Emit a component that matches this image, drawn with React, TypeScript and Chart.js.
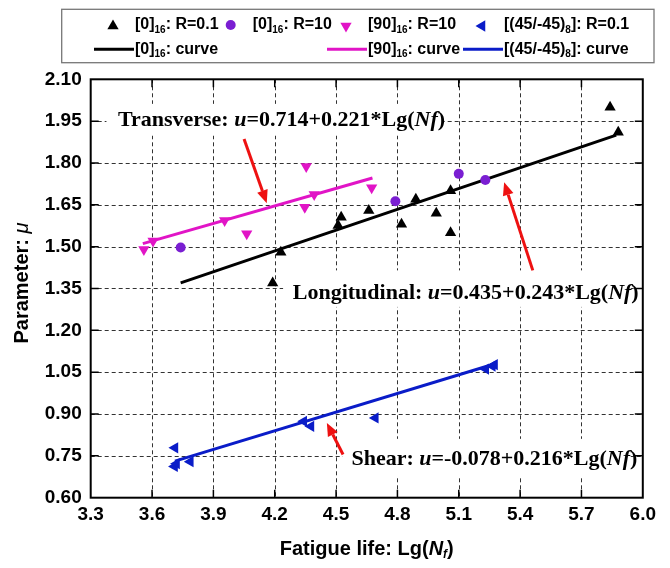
import React, { useEffect, useRef } from 'react';
import { Chart, registerables } from 'chart.js';

Chart.register(...registerables);

// ---------- axis ticks ----------
const xTicks = [3.3, 3.6, 3.9, 4.2, 4.5, 4.8, 5.1, 5.4, 5.7, 6.0];
const xTickLabels = ['3.3', '3.6', '3.9', '4.2', '4.5', '4.8', '5.1', '5.4', '5.7', '6.0'];
const yTicks = [0.6, 0.75, 0.9, 1.05, 1.2, 1.35, 1.5, 1.65, 1.8, 1.95, 2.1];
const yTickLabels = ['0.60', '0.75', '0.90', '1.05', '1.20', '1.35', '1.50', '1.65', '1.80', '1.95', '2.10'];

// ---------- series: [0]16 R=0.1 ----------
const long01Lg = [5.84, 5.88, 5.06, 4.89, 4.99, 5.06, 4.82, 4.66, 4.525, 4.51, 4.23, 4.19];
const long01Mu = [2.0, 1.91, 1.70, 1.67, 1.62, 1.55, 1.58, 1.63, 1.605, 1.576, 1.48, 1.37];
// ---------- [0]16 R=10 ----------
const long10Lg = [3.74, 4.79, 5.10, 5.23];
const long10Mu = [1.497, 1.663, 1.761, 1.739];
// ---------- [90]16 R=10 ----------
const trans10Lg = [3.56, 3.605, 3.955, 4.063, 4.354, 4.347, 4.393, 4.674];
const trans10Mu = [1.49, 1.52, 1.594, 1.546, 1.787, 1.641, 1.687, 1.711];
// ---------- [(45/-45)8] R=0.1 ----------
const shear01Lg = [3.712, 3.71, 3.72, 3.787, 4.342, 4.377, 4.692, 5.232, 5.264, 5.275];
const shear01Mu = [0.779, 0.712, 0.722, 0.729, 0.874, 0.856, 0.886, 1.061, 1.072, 1.077];
// ---------- fitted curves (end points) ----------
const longCurveLg = [3.74, 5.87];
const longCurveMu = [1.37, 1.90];
const transCurveLg = [3.555, 4.678];
const transCurveMu = [1.511, 1.746];
const shearCurveLg = [3.712, 5.286];
const shearCurveMu = [0.731, 1.082];

// ---------- labels ----------
const seriesLabels = [
  '[0]_16: R=0.1',
  '[0]_16: R=10',
  '[90]_16: R=10',
  '[(45/-45)_8]: R=0.1',
  '[0]_16: curve',
  '[90]_16: curve',
  '[(45/-45)_8]: curve',
];

const BLACK = '#000000';
const PURPLE = '#7A1ED2';
const MAGENTA = '#E114C6';
const BLUE = '#0A1CC8';
const RED = '#EE1111';

const SANS = '"Liberation Sans", Arial, sans-serif';
const SERIF = '"Liberation Serif", "Times New Roman", serif';

const zip = (xs: number[], ys: number[]) => xs.map((x, i) => ({ x, y: ys[i] }));

// ---------- annotations (data coordinates) ----------
type Seg = { t: string; i?: boolean };
const annotations: { box: number[]; tx: number; ty: number; parts: Seg[]; arrow: number[] }[] = [
  {
    box: [3.377, 2.012, 5.023, 1.898],
    tx: 3.433, ty: 1.955,
    parts: [{ t: 'Transverse: ' }, { t: 'u', i: true }, { t: '=0.714+0.221*Lg(' }, { t: 'Nf', i: true }, { t: ')' }],
    arrow: [4.05, 1.886, 4.161, 1.656],
  },
  {
    box: [4.241, 1.415, 5.941, 1.284],
    tx: 4.288, ty: 1.338,
    parts: [{ t: 'Longitudinal: ' }, { t: 'u', i: true }, { t: '=0.435+0.243*Lg(' }, { t: 'Nf', i: true }, { t: ')' }],
    arrow: [5.462, 1.415, 5.322, 1.731],
  },
  {
    box: [4.532, 0.811, 5.941, 0.671],
    tx: 4.575, ty: 0.743,
    parts: [{ t: 'Shear: ' }, { t: 'u', i: true }, { t: '=-0.078+0.216*Lg(' }, { t: 'Nf', i: true }, { t: ')' }],
    arrow: [4.534, 0.755, 4.455, 0.868],
  },
];

// ---------- helpers ----------
function drawMarker(ctx: CanvasRenderingContext2D, style: string, rot: number, x: number, y: number, r: number, color: string) {
  ctx.save();
  ctx.fillStyle = color;
  ctx.beginPath();
  if (style === 'circle') {
    ctx.arc(x, y, r, 0, Math.PI * 2);
  } else {
    let rad = (rot * Math.PI) / 180;
    for (let k = 0; k < 3; k++) {
      const px = x + Math.sin(rad) * r;
      const py = y - Math.cos(rad) * r;
      if (k === 0) ctx.moveTo(px, py); else ctx.lineTo(px, py);
      rad += (2 * Math.PI) / 3;
    }
    ctx.closePath();
  }
  ctx.fill();
  ctx.restore();
}

function parseSub(label: string) {
  // "_digits" => subscript
  const out: { t: string; sub: boolean }[] = [];
  const re = /_(\d+)/g;
  let last = 0;
  let m;
  while ((m = re.exec(label))) {
    if (m.index > last) out.push({ t: label.slice(last, m.index), sub: false });
    out.push({ t: m[1], sub: true });
    last = m.index + m[0].length;
  }
  if (last < label.length) out.push({ t: label.slice(last), sub: false });
  return out;
}

function drawLegendText(ctx: CanvasRenderingContext2D, label: string, x: number, y: number) {
  let cx = x;
  ctx.textBaseline = 'middle';
  ctx.textAlign = 'left';
  ctx.fillStyle = '#000';
  for (const seg of parseSub(label)) {
    ctx.font = seg.sub ? `bold 10px ${SANS}` : `bold 16px ${SANS}`;
    ctx.fillText(seg.t, cx, seg.sub ? y + 5 : y);
    cx += ctx.measureText(seg.t).width;
  }
}

// legend layout: column text x (canvas px) and rows
const legendCols = [127, 244.7, 360, 496];
const legendRows = [17, 41.3];
const legendSlots = [
  [0, 0], [1, 0], [2, 0], [3, 0],
  [0, 1], [2, 1], [3, 1],
];

const plotPlugin = {
  id: 'plotDecor',
  beforeDatasetsDraw(chart: any) {
    const { ctx, chartArea: a, scales } = chart;
    const sx = scales.x, sy = scales.y;
    ctx.save();
    ctx.strokeStyle = '#333';
    ctx.lineWidth = 1;
    ctx.setLineDash([4, 3]);
    xTicks.slice(1, -1).forEach((v) => {
      const p = Math.round(sx.getPixelForValue(v)) + 0.5;
      ctx.beginPath(); ctx.moveTo(p, a.top); ctx.lineTo(p, a.bottom); ctx.stroke();
    });
    yTicks.slice(1, -1).forEach((v) => {
      const p = Math.round(sy.getPixelForValue(v)) + 0.5;
      ctx.beginPath(); ctx.moveTo(a.left, p); ctx.lineTo(a.right, p); ctx.stroke();
    });
    ctx.restore();
  },
  afterDatasetsDraw(chart: any) {
    const { ctx, chartArea: a, scales } = chart;
    const sx = scales.x, sy = scales.y;
    // frame + inward ticks
    ctx.save();
    ctx.strokeStyle = '#000';
    ctx.lineWidth = 2;
    ctx.strokeRect(a.left, a.top, a.right - a.left, a.bottom - a.top);
    ctx.lineWidth = 1.5;
    const tl = 8;
    xTicks.slice(1, -1).forEach((v) => {
      const p = sx.getPixelForValue(v);
      ctx.beginPath();
      ctx.moveTo(p, a.bottom); ctx.lineTo(p, a.bottom - tl);
      ctx.moveTo(p, a.top); ctx.lineTo(p, a.top + tl);
      ctx.stroke();
    });
    yTicks.slice(1, -1).forEach((v) => {
      const p = sy.getPixelForValue(v);
      ctx.beginPath();
      ctx.moveTo(a.left, p); ctx.lineTo(a.left + tl, p);
      ctx.moveTo(a.right, p); ctx.lineTo(a.right - tl, p);
      ctx.stroke();
    });
    ctx.restore();

    // annotations
    for (const an of annotations) {
      const [x1, y1, x2, y2] = an.box;
      const L = sx.getPixelForValue(x1), T = sy.getPixelForValue(y1);
      const R = sx.getPixelForValue(x2), B = sy.getPixelForValue(y2);
      ctx.save();
      ctx.fillStyle = '#fff';
      ctx.fillRect(L, T, R - L, B - T);
      let cx = sx.getPixelForValue(an.tx);
      const cy = sy.getPixelForValue(an.ty);
      ctx.fillStyle = '#000';
      ctx.textBaseline = 'middle';
      ctx.textAlign = 'left';
      for (const p of an.parts) {
        ctx.font = `${p.i ? 'italic ' : ''}bold 22px ${SERIF}`;
        ctx.fillText(p.t, cx, cy + 1);
        cx += ctx.measureText(p.t).width;
      }
      // arrow
      const [ax1, ay1, ax2, ay2] = an.arrow;
      const tx = sx.getPixelForValue(ax1), ty = sy.getPixelForValue(ay1);
      const hx = sx.getPixelForValue(ax2), hy = sy.getPixelForValue(ay2);
      const ang = Math.atan2(hy - ty, hx - tx);
      const hl = 13, hw = 5.5;
      const bx = hx - Math.cos(ang) * hl, by = hy - Math.sin(ang) * hl;
      ctx.strokeStyle = RED;
      ctx.fillStyle = RED;
      ctx.lineWidth = 3;
      ctx.beginPath(); ctx.moveTo(tx, ty); ctx.lineTo(bx, by); ctx.stroke();
      ctx.beginPath();
      ctx.moveTo(hx, hy);
      ctx.lineTo(bx + Math.sin(ang) * hw, by - Math.cos(ang) * hw);
      ctx.lineTo(bx - Math.sin(ang) * hw, by + Math.cos(ang) * hw);
      ctx.closePath();
      ctx.fill();
      ctx.restore();
    }
  },
  afterDraw(chart: any) {
    const { ctx, chartArea: a } = chart;
    // legend box
    ctx.save();
    ctx.strokeStyle = '#777';
    ctx.lineWidth = 1.3;
    ctx.strokeRect(53.7, 1.3, 592.3, 53.4);
    chart.data.datasets.forEach((ds: any, i: number) => {
      const [c, r] = legendSlots[i];
      const tx = legendCols[c];
      const ty = legendRows[r];
      if (ds.showLine) {
        ctx.strokeStyle = ds.borderColor;
        ctx.lineWidth = 3;
        ctx.beginPath(); ctx.moveTo(tx - 41, ty); ctx.lineTo(tx - 1, ty); ctx.stroke();
      } else {
        drawMarker(ctx, ds.pointStyle, ds.rotation || 0, tx - 22, ty + (ds.pointStyle === 'circle' ? 0 : 1), ds.pointStyle === 'circle' ? 5 : 6.5, ds.backgroundColor);
      }
      drawLegendText(ctx, ds.label, tx, ty);
    });
    // y axis title
    ctx.save();
    ctx.translate(14.5, (a.top + a.bottom) / 2 - 6);
    ctx.rotate(-Math.PI / 2);
    ctx.textBaseline = 'middle';
    ctx.fillStyle = '#000';
    const p1 = 'Parameter: ';
    ctx.font = `bold 20px ${SANS}`;
    const w1 = ctx.measureText(p1).width;
    ctx.font = `italic bold 20px ${SANS}`;
    const w2 = ctx.measureText('\u03BC').width;
    let x0 = -(w1 + w2) / 2;
    ctx.font = `bold 20px ${SANS}`;
    ctx.fillText(p1, x0, 0);
    ctx.font = `italic 20px ${SANS}`;
    ctx.fillText('\u03BC', x0 + w1, 0);
    ctx.restore();
    // x axis title
    const segs = [
      { t: 'Fatigue life: Lg(', f: `bold 20px ${SANS}`, dy: 0 },
      { t: 'N', f: `italic bold 20px ${SANS}`, dy: 0 },
      { t: 'f', f: `italic bold 12px ${SANS}`, dy: 6 },
      { t: ')', f: `bold 20px ${SANS}`, dy: 0 },
    ];
    let tw = 0;
    segs.forEach((s) => { ctx.font = s.f; tw += ctx.measureText(s.t).width; });
    let xx = (a.left + a.right) / 2 - tw / 2;
    const yy = 541;
    ctx.textBaseline = 'middle';
    ctx.fillStyle = '#000';
    segs.forEach((s) => {
      ctx.font = s.f;
      ctx.fillText(s.t, xx, yy + s.dy);
      xx += ctx.measureText(s.t).width;
    });
    ctx.restore();
  },
};

export default function App() {
  const ref = useRef<HTMLCanvasElement | null>(null);
  useEffect(() => {
    if (!ref.current) return;
    const scatter = (label: string, xs: number[], ys: number[], color: string, style: string, rot: number, r: number) => ({
      type: 'scatter' as const,
      label,
      data: zip(xs, ys),
      backgroundColor: color,
      borderColor: color,
      borderWidth: 0,
      pointStyle: style,
      rotation: rot,
      pointRadius: r,
      pointHoverRadius: r,
      showLine: false,
      order: 1,
    });
    const curve = (label: string, xs: number[], ys: number[], color: string) => ({
      type: 'scatter' as const,
      label,
      data: zip(xs, ys),
      borderColor: color,
      backgroundColor: color,
      borderWidth: 3,
      pointRadius: 0,
      showLine: true,
      order: 2,
    });
    const chart = new Chart(ref.current, {
      type: 'scatter',
      data: {
        datasets: [
          scatter(seriesLabels[0], long01Lg, long01Mu, BLACK, 'triangle', 0, 6.5),
          scatter(seriesLabels[1], long10Lg, long10Mu, PURPLE, 'circle', 0, 5),
          scatter(seriesLabels[2], trans10Lg, trans10Mu, MAGENTA, 'triangle', 180, 6.5),
          scatter(seriesLabels[3], shear01Lg, shear01Mu, BLUE, 'triangle', -90, 6.5),
          curve(seriesLabels[4], longCurveLg, longCurveMu, BLACK),
          curve(seriesLabels[5], transCurveLg, transCurveMu, MAGENTA),
          curve(seriesLabels[6], shearCurveLg, shearCurveMu, BLUE),
        ] as any,
      },
      options: {
        responsive: false,
        animation: false,
        events: [],
        layout: { padding: { top: 71.3, right: 6, left: 0, bottom: 0 } },
        plugins: { legend: { display: false }, tooltip: { enabled: false }, title: { display: false } },
        scales: {
          x: {
            type: 'linear',
            min: 3.3,
            max: 6.0,
            afterBuildTicks: (s: any) => { s.ticks = xTicks.map((v) => ({ value: v })); },
            afterFit: (s: any) => { s.height = 62.3; },
            grid: { display: false, drawTicks: false },
            border: { display: false },
            ticks: {
              padding: 6,
              color: '#000',
              font: { family: SANS, size: 19, weight: 'bold' },
              callback: (_v: any, i: number) => xTickLabels[i],
              maxRotation: 0,
              autoSkip: false,
            },
          },
          y: {
            type: 'linear',
            min: 0.6,
            max: 2.1,
            afterBuildTicks: (s: any) => { s.ticks = yTicks.map((v) => ({ value: v })); },
            afterFit: (s: any) => { s.width = 82.7; },
            grid: { display: false, drawTicks: false },
            border: { display: false },
            ticks: {
              padding: 9,
              color: '#000',
              font: { family: SANS, size: 19, weight: 'bold' },
              callback: (_v: any, i: number) => yTickLabels[i],
              autoSkip: false,
            },
          },
        },
      } as any,
      plugins: [plotPlugin],
    });
    return () => chart.destroy();
  }, []);
  return (
    <div style={{ width: 654, height: 552 }}>
      <canvas ref={ref} width={654} height={552} style={{ display: 'block' }} />
    </div>
  );
}
